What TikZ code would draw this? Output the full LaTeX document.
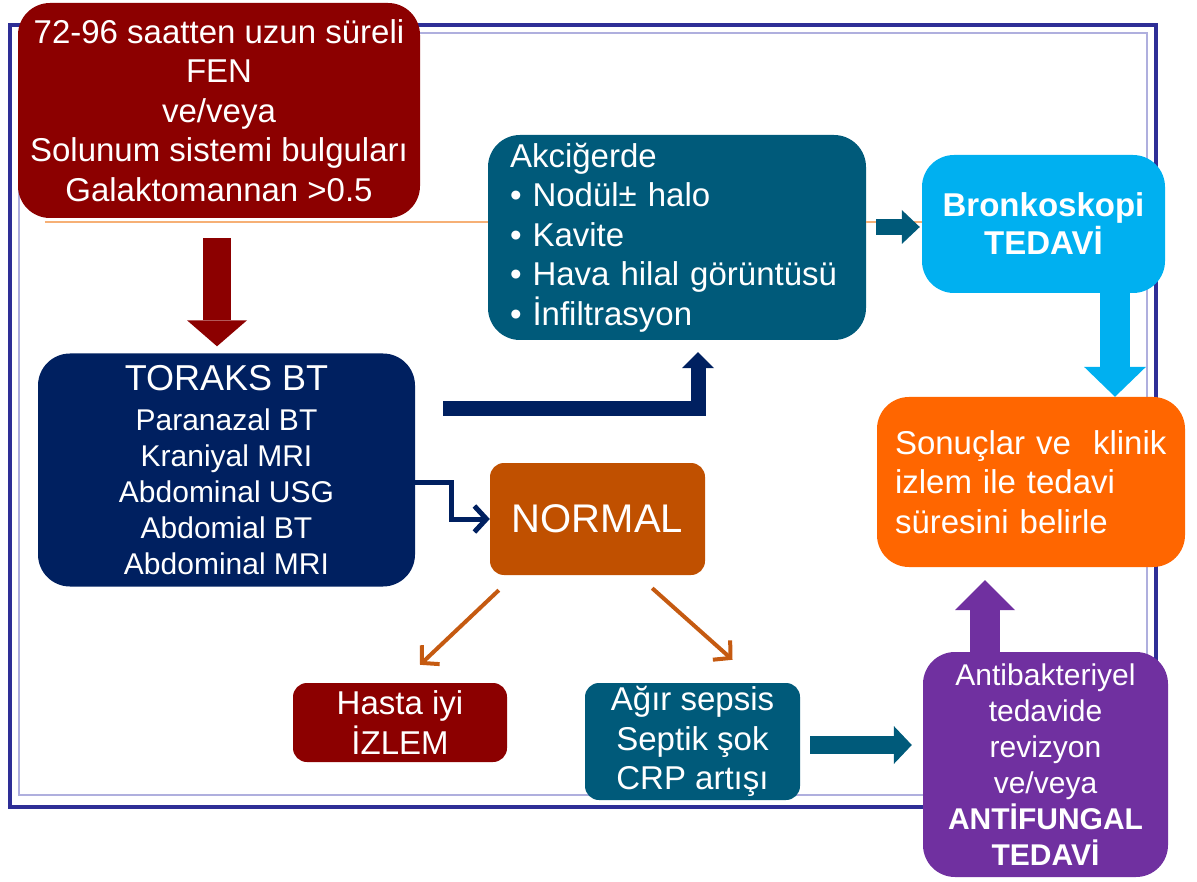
\documentclass[tikz,border=0pt]{standalone}
\usepackage{fontspec}
\setmainfont{Liberation Sans}
\usepackage{tikz}
\usetikzlibrary{calc,arrows.meta}
\definecolor{kirmizi}{RGB}{140,0,0}
\definecolor{petrol}{RGB}{0,90,122}
\definecolor{gokmavi}{RGB}{0,176,240}
\definecolor{turuncu}{RGB}{255,102,0}
\definecolor{lacivert}{RGB}{0,32,96}
\definecolor{kiremit}{RGB}{192,80,0}
\definecolor{okturuncu}{RGB}{197,90,17}
\definecolor{mor}{RGB}{112,48,160}
\definecolor{cerceve}{RGB}{46,46,150}
\definecolor{cerceveic}{RGB}{175,175,222}
\definecolor{kilavuz}{RGB}{246,176,118}
\tikzset{
	box/.style = {rounded corners=32pt, text=white, align=center, inner sep=0pt,
		font=\fontsize{33}{39.5}\selectfont},
	smallbox/.style = {box, rounded corners=14pt},
	fatarrow/.style n args = {3}{line width=#1pt,
		-{Triangle[width=#2pt, length=#3pt, line width=0pt]}},
	thinarrow/.style = {line width=#1pt, -{Straight Barb[length=12pt, width=26pt]}}
}
\begin{document}
\begin{tikzpicture}[x=1pt, y=-1pt]
	\useasboundingbox (0,0) rectangle (1197,882);
	
	% frame
	\draw[line width=4pt, cerceve] (10,25) rectangle (1156,807);
	\draw[line width=2.5pt, cerceveic] (19,33) rectangle (1147,795);
	
	% boxes
	\node[box, fill=kirmizi, minimum width=402pt, minimum height=215pt] (fen) at (219,110.5)
	{72-96 saatten uzun süreli\\FEN\\ve/veya\\Solunum sistemi bulguları\\Galaktomannan >0.5};
	\node[box, fill=petrol, align=left, text width=334pt, inner xsep=22pt,
		minimum height=205pt] (akc) at (677,237.5)
	{Akciğerde\\• Nodül± halo\\• Kavite\\• Hava hilal görüntüsü\\• İnfiltrasyon};
	\node[box, fill=gokmavi, minimum width=243pt, minimum height=138pt,
		font=\fontsize{33}{38}\selectfont\bfseries] (bron) at (1043.5,224)
	{Bronkoskopi\\TEDAVİ};
	\node[box, fill=turuncu, align=left, text width=272pt, inner xsep=18pt,
		minimum height=170pt] (res) at (1031,482)
	{Sonuçlar ve~ klinik\\izlem ile tedavi\\süresini belirle};
	\node[box, fill=lacivert, minimum width=377pt, minimum height=233pt,
		font=\fontsize{30}{36}\selectfont] (tor) at (226.5,470)
	{{\fontsize{36}{40}\selectfont TORAKS BT}\\[4pt]Paranazal BT\\Kraniyal MRI\\Abdominal USG\\Abdomial BT\\Abdominal MRI};
	\node[smallbox, fill=kiremit, minimum width=215pt, minimum height=112pt,
		font=\fontsize{40}{44}\selectfont] (normal) at (597.5,519) {NORMAL};
	\node[smallbox, fill=kirmizi, minimum width=214pt, minimum height=79pt] (izlem) at (400,722.5)
	{Hasta iyi\\İZLEM};
	\node[smallbox, fill=petrol, minimum width=215pt, minimum height=117pt] (sepsis) at (692.5,741.5)
	{Ağır sepsis\\Septik şok\\CRP artışı};
	\node[box, fill=mor, minimum width=245pt, minimum height=225pt,
		font=\fontsize{30}{36}\selectfont] (anti) at (1045.5,764.5)
	{Antibakteriyel\\tedavide\\revizyon\\ve/veya\\\textbf{ANTİFUNGAL}\\\textbf{TEDAVİ}};
	
	% thin guide line
	\coordinate (g) at ($(fen.south west)+(27,4)$);
	\draw[kilavuz, line width=1.5pt] (g) -- (g -| akc.west);
	\draw[kilavuz, line width=1.5pt] (g -| akc.east) -- (g -| bron.west);
	
	% arrows
	\draw[kirmizi, fatarrow={28}{60}{26}] ($(fen.south)+(-2,20)$) -- ($(fen.south |- tor.north)+(-2,-7)$);
	\draw[petrol, fatarrow={16}{34}{18}] ($(akc.east |- bron.west)+(10,3)$) -- ($(bron.west)+(-2,3)$);
	\draw[lacivert, fatarrow={15}{32}{16}] ($(tor.east)+(28,-61.5)$) -| ($(akc.south)+(21,12)$);
	\draw[lacivert, thinarrow=5] ($(tor.east)+(0,12)$) -| ($(normal.west)+(-38,0)$) -- (normal.west);
	\draw[okturuncu, thinarrow=4] ($(normal.south west)+(9,15)$) -- ($(izlem.north)+(20,-18)$);
	\draw[okturuncu, thinarrow=4] ($(normal.south east)+(-53,13)$) -- ($(sepsis.north)+(40,-23)$);
	\draw[petrol, fatarrow={18}{38}{18}] ($(sepsis.east)+(10,3.5)$) -- ($(sepsis.east -| anti.west)+(-11,3.5)$);
	\draw[mor, fatarrow={30}{60}{30}] ($(anti.north -| res.south)+(-46,0)$) -- ($(res.south)+(-46,13)$);
	\draw[gokmavi, fatarrow={30}{62}{30}] ($(bron.south)+(71.5,0)$) -- ($(res.north)+(84,0)$);
	
\end{tikzpicture}
\end{document}
